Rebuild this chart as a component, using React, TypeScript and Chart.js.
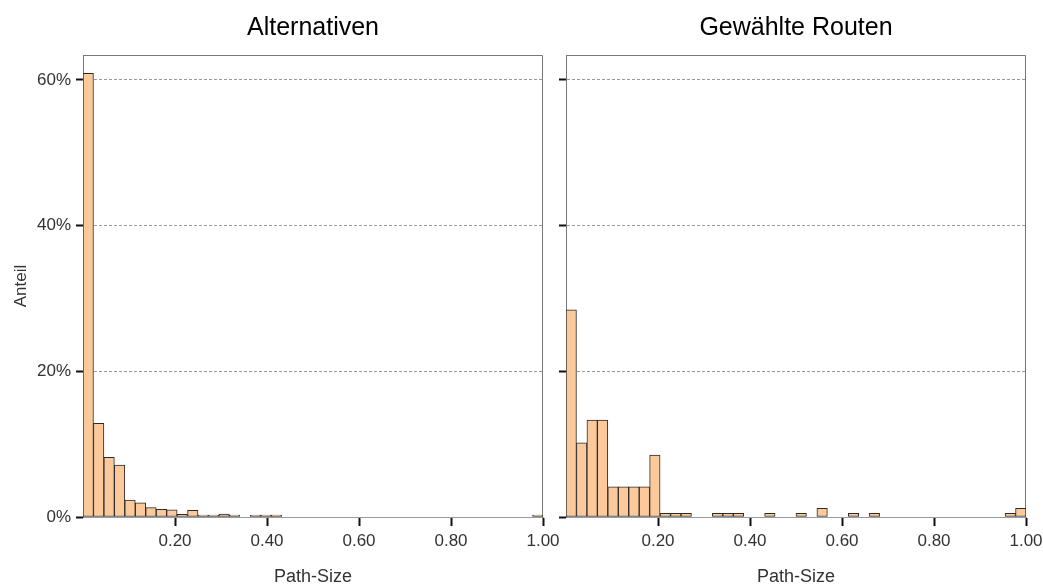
import React, { useEffect, useRef } from "react";
import { Chart, registerables } from "chart.js";

Chart.register(...registerables);

// ---- data ----
const binCount = 44; // histogram bins spanning Path-Size 0 .. 1
const xTickValues = [0.2, 0.4, 0.6, 0.8, 1.0];
const yTickValues = [0, 20, 40, 60];
const yMax = 63.43;

const panelTitles = ["Alternativen", "Gewählte Routen"];
const xAxisTitle = "Path-Size";
const yAxisTitle = "Anteil";

// share (%) per bin – Alternativen
const alternativenShares = [
  60.9, 12.86, 8.2, 7.14, 2.33, 1.96, 1.28, 1.05, 1.0, 0.35, 0.9, 0.15, 0.15, 0.4, 0.15, 0, 0.15, 0.15, 0.12,
  0, 0, 0, 0, 0, 0, 0, 0, 0, 0, 0, 0, 0, 0, 0, 0, 0, 0, 0, 0, 0, 0, 0, 0,
  0.12,
];

// share (%) per bin – Gewählte Routen
const gewaehlteShares = [
  28.45, 10.2, 13.3, 13.3, 4.15, 4.15, 4.15, 4.15, 8.5, 0.5, 0.5, 0.5, 0, 0, 0.5, 0.5, 0.5, 0, 0, 0.5,
  0, 0, 0.5, 0, 1.2, 0, 0, 0.5, 0, 0.5,
  0, 0, 0, 0, 0, 0, 0, 0, 0, 0, 0, 0,
  0.5, 1.2,
];

const FONT = "'Liberation Sans', Arial, Helvetica, sans-serif";

const framePlugin = {
  id: "frame",
  beforeDatasetsDraw(chart: any) {
    const { ctx, chartArea: a } = chart;
    const l = Math.round(a.left) + 0.5;
    const r = Math.round(a.right) - 0.5;
    const t = Math.round(a.top) + 0.5;
    const b = Math.round(a.bottom);
    ctx.save();
    ctx.strokeStyle = "#777";
    ctx.lineWidth = 1;
    ctx.beginPath();
    ctx.moveTo(l, b);
    ctx.lineTo(l, t);
    ctx.lineTo(r, t);
    ctx.lineTo(r, b);
    ctx.stroke();
    ctx.restore();
  },
  afterDraw(chart: any) {
    const { ctx, chartArea: a } = chart;
    const text = chart.options.plugins.panelTitle?.text;
    if (!text) return;
    ctx.save();
    ctx.fillStyle = "#000";
    ctx.font = `normal 25px ${FONT}`;
    ctx.textAlign = "center";
    ctx.textBaseline = "alphabetic";
    ctx.fillText(text, (a.left + a.right) / 2, 35);
    ctx.restore();
  },
};

function makeConfig(values: number[], title: string, showYLabels: boolean, yAxisWidth: number, padRight: number): any {
  const binWidth = 1 / binCount;
  return {
    type: "bar",
    data: {
      datasets: [
        {
          data: values.map((v, i) => ({ x: (i + 0.5) * binWidth, y: v > 0 ? v : null })),
          backgroundColor: "#FCCA9A",
          borderColor: "#2a2a2a",
          borderWidth: 1,
          borderSkipped: false,
          minBarLength: 2,
          barPercentage: 1,
          categoryPercentage: 1,
        },
      ],
    },
    options: {
      responsive: false,
      animation: false,
      layout: { padding: { left: 0, right: padRight, top: 55, bottom: 0 } },
      plugins: {
        legend: { display: false },
        tooltip: { enabled: false },
        title: { display: false },
        panelTitle: { text: title },
      },
      scales: {
        x: {
          type: "linear",
          min: 0,
          max: 1,
          offset: false,
          afterBuildTicks: (ax: any) => {
            ax.ticks = xTickValues.map((v) => ({ value: v }));
          },
          afterFit: (ax: any) => {
            ax.height = 71;
            ax.paddingLeft = 0;
            ax.paddingRight = 0;
          },
          grid: {
            display: true,
            offset: false,
            drawOnChartArea: false,
            drawTicks: true,
            tickLength: 9,
            tickColor: "#111",
            tickWidth: 2,
          },
          border: { display: true, color: "#999", width: 1 },
          ticks: {
            autoSkip: false,
            maxRotation: 0,
            padding: 5,
            color: "#333",
            font: { family: FONT, size: 17 },
            callback: (v: any) => Number(v).toFixed(2),
          },
          title: {
            display: true,
            text: xAxisTitle,
            color: "#333",
            font: { family: FONT, size: 18 },
            padding: { top: 0, bottom: 0 },
          },
        },
        y: {
          type: "linear",
          min: 0,
          max: yMax,
          afterBuildTicks: (ax: any) => {
            ax.ticks = yTickValues.map((v) => ({ value: v }));
          },
          afterFit: (ax: any) => {
            ax.width = yAxisWidth;
          },
          grid: {
            color: (c: any) => (c.tick && c.tick.value === 0 ? "rgba(0,0,0,0)" : "#9a9a9a"),
            lineWidth: 1,
            drawTicks: true,
            tickLength: 7,
            tickColor: "#111",
            tickWidth: 2,
            tickBorderDash: [],
          },
          border: { display: true, color: "#777", width: 1, dash: [3, 2] },
          ticks: {
            padding: 5,
            color: "#333",
            font: { family: FONT, size: 17 },
            callback: (v: any) => (showYLabels ? `${v}%` : ""),
          },
          title: {
            display: showYLabels,
            text: yAxisTitle,
            color: "#333",
            font: { family: FONT, size: 17 },
            padding: { top: 11, bottom: 0 },
          },
        },
      },
    },
    plugins: [framePlugin],
  };
}

export default function App() {
  const leftRef = useRef<HTMLCanvasElement>(null);
  const rightRef = useRef<HTMLCanvasElement>(null);

  useEffect(() => {
    const c1 = new Chart(leftRef.current as HTMLCanvasElement, makeConfig(alternativenShares, panelTitles[0], true, 83, 17));
    const c2 = new Chart(rightRef.current as HTMLCanvasElement, makeConfig(gewaehlteShares, panelTitles[1], false, 16, 17));
    return () => {
      c1.destroy();
      c2.destroy();
    };
  }, []);

  return (
    <div style={{ position: "absolute", left: 0, top: 0, width: 1043, height: 588, background: "#fff" }}>
      <canvas ref={leftRef} width={560} height={588} style={{ position: "absolute", left: 0, top: 0, width: 560, height: 588 }} />
      <canvas ref={rightRef} width={493} height={588} style={{ position: "absolute", left: 550, top: 0, width: 493, height: 588 }} />
    </div>
  );
}
